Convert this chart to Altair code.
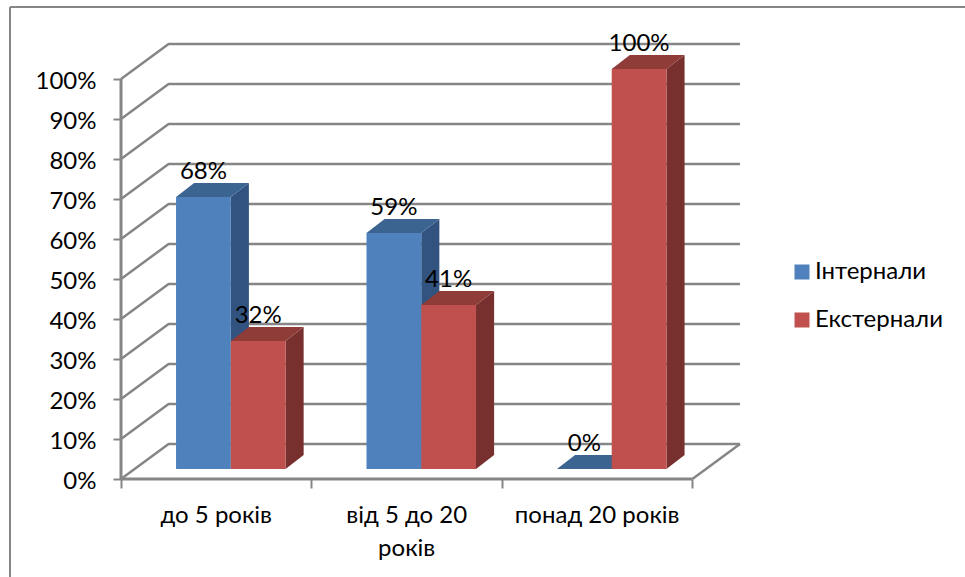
import altair as alt
import pandas as pd

# Survey shares by length of service, in percent
categories = ["до 5 років", "від 5 до 20\nроків", "понад 20 років"]
series_names = ["Інтернали", "Екстернали"]
internals = [68, 59, 0]
externals = [32, 41, 100]
y_ticks = list(range(0, 101, 10))

FONT = "Lato"
TEXT_SIZE = 24
GRAY = "#868686"

# Oblique projection, in data units: one category is 1.0 on x, one percent is 1.0 on y
WALL_DX, WALL_DY = 0.25, 8.75
BAR_DX, BAR_DY = 0.095, 3.5
BAR_START, BAR_WIDTH = 0.289, 0.2875
BAR_BASE = 2.5
X_MAX, Y_MAX = 3.25, 109

palette = {
    "Інтернали": {"front": "#4F81BD", "top": "#3C6491", "side": "#325280"},
    "Екстернали": {"front": "#C0504D", "top": "#8F3C39", "side": "#78302E"},
}

x_scale = alt.Scale(domain=[0, X_MAX], nice=False, zero=False)
y_scale = alt.Scale(domain=[0, Y_MAX], nice=False, zero=False)

# Wall grid: each level runs up the side wall, then along the back wall
wall_rows = []
for v in y_ticks:
    wall_rows += [
        {"level": v, "x": 0, "y": v},
        {"level": v, "x": WALL_DX, "y": v + WALL_DY},
        {"level": v, "x": X_MAX, "y": v + WALL_DY},
    ]
wall_rows += [
    {"level": "floor", "x": len(categories), "y": 0},
    {"level": "floor", "x": X_MAX, "y": WALL_DY},
]

walls = alt.Chart(pd.DataFrame(wall_rows)).mark_line(color=GRAY, strokeWidth=2.5, clip=False).encode(
    x=alt.X("x:Q", scale=x_scale, axis=alt.Axis(
        values=list(range(len(categories) + 1)), labels=False, title=None, grid=False, domain=False,
        ticks=True, tickSize=9, tickWidth=2, tickColor=GRAY)),
    y=alt.Y("y:Q", scale=y_scale, axis=alt.Axis(
        values=y_ticks, labelExpr="datum.value + '%'", title=None, grid=False, domain=False,
        ticks=True, tickSize=8, tickWidth=2, tickColor=GRAY, labelPadding=17, labelOffset=2,
        labelFont=FONT, labelFontSize=TEXT_SIZE, labelColor="#000000")),
    detail="level:N",
)

axis_lines = alt.Chart(pd.DataFrame([
    {"x": 0, "x2": len(categories), "y": 0, "y2": 0},
    {"x": 0, "x2": 0, "y": 0, "y2": 100},
])).mark_rule(color=GRAY, strokeWidth=3).encode(
    x=alt.X("x:Q", scale=x_scale), x2="x2:Q",
    y=alt.Y("y:Q", scale=y_scale), y2="y2:Q",
)

# Chart-area outline along the top and left edges
frame_top = alt.Chart(pd.DataFrame({"k": [0]})).mark_rule(color=GRAY, strokeWidth=2).encode(
    x=alt.value(-111), x2=alt.value(844), y=alt.value(-36))
frame_left = alt.Chart(pd.DataFrame({"k": [0]})).mark_rule(color=GRAY, strokeWidth=2).encode(
    x=alt.value(-111), y=alt.value(-36), y2=alt.value(534))

# Bars: one row per bar, split into its three visible faces
bar_rows = []
for name, values in zip(series_names, [internals, externals]):
    offset = series_names.index(name)
    for i, (cat, v) in enumerate(zip(categories, values)):
        left = i + BAR_START + offset * BAR_WIDTH
        bar_rows.append({
            "series": name, "cat": cat, "value": v, "left": left, "right": left + BAR_WIDTH,
            "base": BAR_BASE, "top": BAR_BASE + v,
        })
bars = pd.DataFrame(bar_rows)


def side_face(row):
    return [
        {"bar": row.left, "x": row.right, "y": row.base, "y2": row.top},
        {"bar": row.left, "x": row.right + BAR_DX, "y": row.base + BAR_DY, "y2": row.top + BAR_DY},
    ]


def top_face(row):
    t, back = row.top, row.top + BAR_DY
    return [
        {"bar": row.left, "x": row.left, "y": t, "y2": t},
        {"bar": row.left, "x": row.left + BAR_DX, "y": t, "y2": back},
        {"bar": row.left, "x": row.right, "y": t, "y2": back},
        {"bar": row.left, "x": row.right + BAR_DX, "y": back, "y2": back},
    ]


layers = [walls, axis_lines, frame_top, frame_left]

for name in series_names:
    subset = bars[bars["series"] == name]
    sides = [p for r in subset.itertuples() for p in side_face(r)]
    tops = [p for r in subset.itertuples() for p in top_face(r)]
    for points, shade in ((sides, "side"), (tops, "top")):
        layers.append(
            alt.Chart(pd.DataFrame(points)).mark_area(color=palette[name][shade], interpolate="linear").encode(
                x=alt.X("x:Q", scale=x_scale),
                y=alt.Y("y:Q", scale=y_scale),
                y2="y2:Q",
                detail="bar:N",
            )
        )
    layers.append(
        alt.Chart(subset).mark_rect().encode(
            x=alt.X("left:Q", scale=x_scale),
            x2="right:Q",
            y=alt.Y("base:Q", scale=y_scale),
            y2="top:Q",
            color=alt.Color(
                "series:N",
                scale=alt.Scale(domain=series_names, range=[palette[n]["front"] for n in series_names]),
                legend=alt.Legend(
                    title=None, orient="none", legendX=669, legendY=217,
                    symbolType="square", symbolSize=225, symbolStrokeWidth=0,
                    labelFont=FONT, labelFontSize=TEXT_SIZE, labelColor="#000000",
                    rowPadding=24, labelOffset=1,
                ),
            ),
        )
    )

value_labels = alt.Chart(bars).transform_calculate(
    label="datum.value + '%'", mid="(datum.left + datum.right) / 2"
).mark_text(font=FONT, fontSize=TEXT_SIZE, color="#000000", dy=-25, baseline="middle").encode(
    x=alt.X("mid:Q", scale=x_scale),
    y=alt.Y("top:Q", scale=y_scale),
    text="label:N",
)

cat_df = pd.DataFrame({"pos": [i + 0.5 for i in range(len(categories))], "cat": categories, "y": [0] * len(categories)})
category_labels = alt.Chart(cat_df).mark_text(
    font=FONT, fontSize=TEXT_SIZE, color="#000000", baseline="top", dy=25, lineBreak="\n", lineHeight=33
).encode(
    x=alt.X("pos:Q", scale=x_scale),
    y=alt.Y("y:Q", scale=y_scale),
    text="cat:N",
)

chart = alt.layer(*layers, value_labels, category_labels).properties(
    width=619,
    height=436,
    padding={"left": 121, "top": 43, "right": 225, "bottom": 98},
    autosize=alt.AutoSizeParams(type="none"),
    background="#ffffff",
).configure_view(stroke=None)

chart.save("out.html", embed_options={"renderer": "svg", "actions": False})
